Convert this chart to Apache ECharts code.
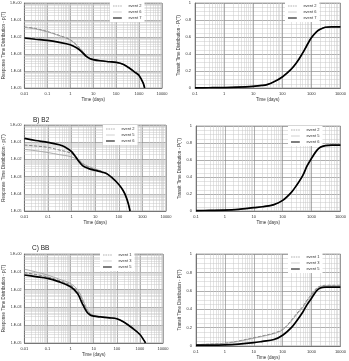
<!DOCTYPE html>
<html><head><meta charset="utf-8">
<script src="https://cdn.jsdelivr.net/npm/echarts@6/dist/echarts.min.js"></script>
<style>html,body{margin:0;padding:0;background:#fff}#c{width:349px;height:361px}</style>
</head><body><div id="c"></div>
<script>
// ---------- DATA ----------
const xTicksLeft = ['0.01','0.1','1','10','100','1000','10000'];
const xTicksRight = ['0.1','1','10','100','1000','10000'];
const yTicksLeft = ['1.E-05','1.E-04','1.E-03','1.E-02','1.E-01','1.E+00'];
const yTicksRight = ['0','0.2','0.4','0.6','0.8','1'];
const panelTitles = ['', 'B) B2', 'C) BB'];
const legendA = ['event 2','event 6','event 7'];
const legendB = ['event 2','event 5','event 6'];
const legendC = ['event 1','event 3','event 5'];

const tA = [0.01,0.03,0.1,0.3,1,2,3,5,7,10,20,50,100,200,400,700,1000,1500,1750];
const pA_ev7 = [8.7e-3,7.4e-3,6.3e-3,5.0e-3,3.5e-3,2.2e-3,1.45e-3,7.2e-4,5.5e-4,4.7e-4,4.0e-4,3.5e-4,3.2e-4,2.5e-4,1.4e-4,8.0e-5,5.5e-5,2.0e-5,1.0e-5];
const pA_ev2 = [3.9e-2,3.2e-2,2.1e-2,1.3e-2,6.9e-3,3.2e-3,1.8e-3,8.3e-4,5.6e-4,4.7e-4,4.0e-4,3.5e-4,3.2e-4,2.5e-4,1.4e-4,8.0e-5,5.5e-5,2.0e-5,1.0e-5];
const pA_ev6 = [3.6e-2,3.0e-2,2.0e-2,1.25e-2,6.6e-3,3.0e-3,1.7e-3,8.0e-4,5.5e-4,4.7e-4,4.0e-4,3.5e-4,3.2e-4,2.5e-4,1.4e-4,8.0e-5,5.5e-5,2.0e-5,1.0e-5];
const tAr = [0.1,0.3,1,3,10,20,30,50,100,200,300,500,700,1000,1500,2000,3000,5000,10000];
const PA_all = [0.002,0.003,0.005,0.01,0.02,0.03,0.04,0.07,0.13,0.22,0.29,0.41,0.5,0.59,0.66,0.69,0.715,0.72,0.72];
const tB = [0.01,0.03,0.1,0.3,0.5,1,2,3,5,10,20,30,50,100,150,200,250,300];
const pB_ev6 = [1.66e-1,1.26e-1,9.8e-2,7.1e-2,5.5e-2,2.8e-2,7.9e-3,4.2e-3,3.0e-3,2.3e-3,1.8e-3,1.5e-3,8.9e-4,3.5e-4,1.6e-4,7.1e-5,2.8e-5,1.0e-5];
const pB_ev2 = [6.8e-2,6.0e-2,5.0e-2,3.5e-2,3.0e-2,2.2e-2,1.0e-2,5.6e-3,3.7e-3,2.6e-3,1.9e-3,1.5e-3,8.9e-4,3.5e-4,1.6e-4,7.1e-5,2.8e-5,1.0e-5];
const pB_ev5 = [3.8e-2,3.2e-2,2.5e-2,1.9e-2,1.7e-2,1.4e-2,8.9e-3,5.6e-3,4.0e-3,2.8e-3,2.0e-3,1.5e-3,8.9e-4,3.5e-4,1.6e-4,7.1e-5,2.8e-5,1.0e-5];
const tBr = [0.1,0.3,1,3,10,20,50,100,200,300,500,700,1000,1500,2000,3000,5000,10000];
const PB_all = [0.005,0.007,0.01,0.02,0.04,0.05,0.075,0.125,0.22,0.3,0.42,0.53,0.62,0.71,0.75,0.77,0.775,0.775];
const tC = [0.01,0.03,0.1,0.3,1,2,3,5,7,10,20,50,100,200,500,1000,1500,1750];
const pC_ev5 = [6.6e-2,5.4e-2,4.3e-2,2.8e-2,1.45e-2,6.0e-3,2.0e-3,5.6e-4,3.7e-4,3.2e-4,2.9e-4,2.6e-4,2.3e-4,1.5e-4,6.5e-5,3.0e-5,1.4e-5,1.0e-5];
const pC_ev1 = [8.9e-2,7.1e-2,5.2e-2,3.3e-2,1.8e-2,7.9e-3,3.2e-3,6.9e-4,4.2e-4,3.5e-4,3.0e-4,2.6e-4,2.3e-4,1.5e-4,6.5e-5,3.0e-5,1.4e-5,1.0e-5];
const pC_ev3 = [1.4e-1,1.0e-1,6.6e-2,4.0e-2,2.2e-2,1.0e-2,3.9e-3,8.7e-4,4.7e-4,3.6e-4,3.1e-4,2.6e-4,2.3e-4,1.5e-4,6.5e-5,3.0e-5,1.4e-5,1.0e-5];
const tCr = [0.1,0.3,1,3,10,20,50,100,200,300,500,700,1000,1500,2000,3000,5000,10000];
const PC_ev5 = [0.01,0.01,0.012,0.02,0.036,0.05,0.07,0.117,0.2,0.27,0.37,0.45,0.52,0.6,0.63,0.64,0.64,0.64];
const PC_ev1 = [0.015,0.02,0.03,0.055,0.09,0.11,0.14,0.18,0.28,0.35,0.43,0.5,0.56,0.63,0.65,0.66,0.66,0.66];
const PC_ev3 = [0.015,0.02,0.028,0.05,0.085,0.105,0.135,0.175,0.27,0.34,0.42,0.49,0.55,0.62,0.645,0.655,0.655,0.655];

// ---------- BUILD ----------
const zip = (xs, ys) => xs.map((x, i) => [x, ys[i]]);
function minorVals(k0, k1){ const a=[]; for(let k=k0;k<k1;k++){ for(let m=2;m<=9;m++) a.push(+(m*Math.pow(10,k)).toPrecision(3)); } return a; }
const FONT = 'Liberation Sans';
const majorC = '#8c8c8c', minorC = '#c8c8c8';
const logLabel = (arr, off) => v => { const e = Math.log10(v); return Math.abs(e - Math.round(e)) < 1e-6 ? (arr[Math.round(e) + off] || '') : ''; };

const grids = [
  {left:22, top:3, width:140, height:85},
  {left:195, top:3, width:147, height:85},
  {left:21, top:125, width:145, height:86},
  {left:196, top:126, width:146, height:85},
  {left:22, top:254, width:141, height:89},
  {left:196, top:254, width:146, height:92}
];
const legendPos = [[110,2],[285,2],[103,125],[288,126],[100,251],[288,253]];

const xAxes = [], yAxes = [], series = [], legends = [];
grids.forEach((g, i) => {
  const left = i % 2 === 0;
  const xmin = left ? 0.01 : 0.1, xmax = 10000;
  g.show = true; g.borderColor = '#777'; g.borderWidth = 0.6;
  xAxes.push({
    type:'log', logBase:10, gridIndex:i, min:xmin, max:xmax, interval:1,
    name:'Time (days)', nameLocation:'middle', nameGap:9,
    nameTextStyle:{fontSize:4.5, color:'#333', fontFamily:FONT},
    axisLine:{show:true, lineStyle:{color:'#555', width:0.6}},
    axisTick:{show:false},
    axisLabel:{fontSize:4, color:'#333', margin:4, fontFamily:FONT,
      formatter: logLabel(left?xTicksLeft:xTicksRight, left?2:1)},
    splitLine:{show:true, lineStyle:{color:majorC, width:0.7}}
  });
  if (left) {
    yAxes.push({
      type:'log', logBase:10, gridIndex:i, min:1e-5, max:1, interval:1,
      name:'Response Time Distribution - p(T)', nameLocation:'middle', nameGap:16,
      nameTextStyle:{fontSize:4.5, color:'#333', fontFamily:FONT},
      axisLine:{show:true, lineStyle:{color:'#555', width:0.6}},
      axisTick:{show:false},
      axisLabel:{fontSize:3.6, color:'#333', margin:3, fontFamily:FONT,
        formatter: logLabel(yTicksLeft, 5)},
      splitLine:{show:true, lineStyle:{color:majorC, width:0.7}}
    });
  } else {
    yAxes.push({
      type:'value', gridIndex:i, min:0, max:1, interval:0.2,
      name:'Transit Time Distribution - P(T)', nameLocation:'middle', nameGap:13,
      nameTextStyle:{fontSize:4.5, color:'#333', fontFamily:FONT},
      axisLine:{show:true, lineStyle:{color:'#555', width:0.6}},
      axisTick:{show:false},
      axisLabel:{fontSize:4, color:'#333', margin:4, fontFamily:FONT,
        formatter: v => yTicksRight[Math.round(v/0.2)]},
      splitLine:{show:true, lineStyle:{color:majorC, width:0.7}},
      minorTick:{show:false, splitNumber:4},
      minorSplitLine:{show:true, lineStyle:{color:minorC, width:0.5}}
    });
  }
  // minor log grid lines, positioned through the library scales
  const ymin = left ? 1e-5 : 0, ymax = 1;
  const mlData = (left ? minorVals(-2,4) : minorVals(-1,4)).map(v => [{coord:[v, ymin]}, {coord:[v, ymax]}]);
  if (left) minorVals(-5,0).forEach(v => mlData.push([{coord:[xmin, v]}, {coord:[xmax, v]}]));
  series.push({
    type:'line', xAxisIndex:i, yAxisIndex:i, data:[], silent:true, z:1,
    markLine:{silent:true, symbol:'none', label:{show:false}, animation:false, z:1,
      lineStyle:{color:minorC, width:0.5, type:'solid'}, data:mlData}
  });
});

const zw = n => '\u200b'.repeat(n);
const panelsSeries = [
  [0, legendA, tA, [pA_ev2, pA_ev6, pA_ev7]],
  [1, legendA, tAr, [PA_all, PA_all, PA_all]],
  [2, legendB, tB, [pB_ev2, pB_ev5, pB_ev6]],
  [3, legendB, tBr, [PB_all, PB_all, PB_all]],
  [4, legendC, tC, [pC_ev1, pC_ev3, pC_ev5]],
  [5, legendC, tCr, [PC_ev1, PC_ev3, PC_ev5]]
];
const styles = [
  {color:'#666', width:0.8, type:'dashed', icon:'path://M0,0H0.01V10H0Z M0,4.5H4V5.5H0Z M6,4.5H10V5.5H6Z M12,4.5H16V5.5H12Z M18,4.5H22V5.5H18Z'},
  {color:'#a0a0a0', width:0.9, type:'solid', icon:'path://M0,0H0.01V10H0Z M0,4.5H22V5.5H0Z'},
  {color:'#000', width:1.7, type:'solid', icon:'path://M0,0H0.01V10H0Z M0,3.5H22V6.5H0Z'}
];
panelsSeries.forEach(([gi, names, xs, ys]) => {
  const nm = names.map(n => n + zw(gi));
  ys.forEach((y, k) => {
    series.push({
      name: nm[k], type:'line', xAxisIndex:gi, yAxisIndex:gi,
      data: zip(xs, y), smooth:0.35, symbol:'none', z: 3 + k,
      lineStyle:{color:styles[k].color, width:styles[k].width, type:styles[k].type},
      itemStyle:{color:styles[k].color}
    });
  });
  legends.push({
    data:nm.map((n, k) => ({name:n, icon:styles[k].icon, itemStyle:{color:styles[k].color, borderWidth:0}})),
    orient:'vertical', left:legendPos[gi][0], top:legendPos[gi][1],
    itemWidth:12, itemHeight:4, itemGap:2, padding:[2,3], backgroundColor:'#fff',
    textStyle:{fontSize:4, color:'#333', fontFamily:FONT}, selectedMode:false
  });
});

const chart = echarts.init(document.getElementById('c'), null, {renderer:'canvas'});
chart.setOption({
  animation:false,
  backgroundColor:'#fff',
  title:[
    {text:panelTitles[1], left:28, top:112, textStyle:{fontSize:6.5, fontWeight:'normal', color:'#222', fontFamily:FONT}},
    {text:panelTitles[2], left:27, top:240, textStyle:{fontSize:6.5, fontWeight:'normal', color:'#222', fontFamily:FONT}}
  ],
  grid:grids, xAxis:xAxes, yAxis:yAxes, legend:legends, series:series
});
</script></body></html>
